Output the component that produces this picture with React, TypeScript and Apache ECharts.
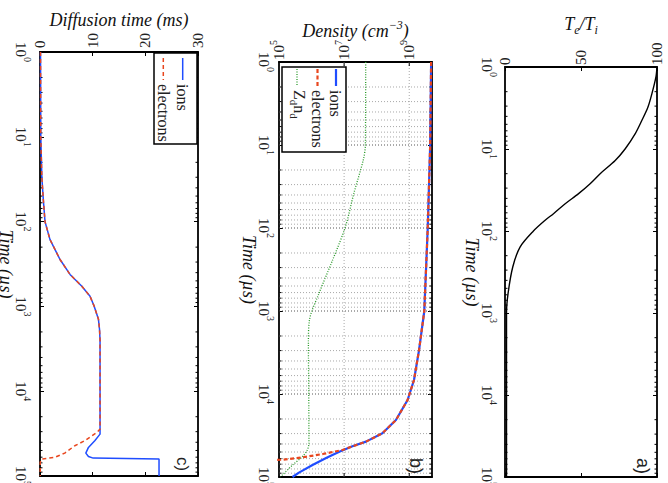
import React, { useEffect, useRef } from 'react';
import * as echarts from 'echarts';

const SERIF = 'Liberation Serif';
const SANS = 'Liberation Sans';

// ---------- tick labels ----------
const TIME_EXPONENTS = [0, 1, 2, 3, 4, 5];
const DIFF_TICKS = [0, 10, 20, 30];
const DENSITY_EXPONENTS = [5, 7, 9];
const RATIO_TICKS = [0, 50, 100];

// ---------- panel a) Te/Ti ----------
const TETI_TIME = [1, 1.32, 2.1, 3.1, 4.5, 6.5, 10, 13.8, 20, 26.5, 35, 46.5, 61.5, 74, 100, 157, 275, 580, 1000, 2000, 100000];
const TETI = [100, 99.3, 96.7, 94, 90, 85.7, 79, 72.5, 62.6, 56, 48.4, 39.6, 31.9, 26.4, 18.7, 9.9, 5.1, 2.0, 1.0, 1.0, 1.0];

// ---------- panel b) densities (cm^-3) ----------
const DENS_ION_TIME = [1, 10, 100, 1000, 2960, 6780, 11800, 20600, 29700, 37500, 42700, 49700, 59000, 71800, 88500, 100000];
const DENS_ION = [4.7e9, 4.4e9, 3.7e9, 2.9e9, 2.0e9, 1.4e9, 8.9e8, 3.9e8, 1.5e8, 4.7e7, 1.8e7, 7.1e6, 2.8e6, 1.07e6, 4.1e5, 2.6e5];
const DENS_ELEC_TIME = [1, 10, 100, 1000, 2960, 6780, 11800, 20600, 29700, 37500, 42700, 47300, 52900, 58000, 61900, 63500, 100000];
const DENS_ELEC = [4.7e9, 4.4e9, 3.7e9, 2.9e9, 2.0e9, 1.4e9, 8.9e8, 3.9e8, 1.5e8, 4.7e7, 1.8e7, 8.9e6, 2.2e6, 5.2e5, 1.27e5, 1e4, 1e4];
const ZN_TIME = [1, 10, 15, 38, 96, 245, 610, 1290, 2450, 10000, 39000, 47300, 56900, 71800, 100000];
const ZN = [4.6e7, 4.5e7, 3.9e7, 2.0e7, 1.1e7, 4.4e6, 1.7e6, 8.6e5, 8.0e5, 8.2e5, 8.3e5, 7.4e5, 5.2e5, 2.6e5, 1.1e5];

// ---------- panel c) diffusion times (ms) ----------
const DIFF_ION_TIME = [1, 10, 30, 55, 100, 163, 280, 420, 575, 760, 1000, 1420, 1860, 2500, 32100, 38400, 46000, 53700, 58900, 61500, 63000, 100000];
const DIFF_ION = [0.1, 0.15, 0.35, 0.63, 0.95, 1.9, 3.8, 5.7, 7.9, 9.5, 10.3, 11.1, 11.3, 11.4, 11.4, 10.4, 9.2, 8.7, 9.2, 10.1, 22.6, 22.6];
const DIFF_ELEC_TIME = [1, 10, 30, 55, 100, 163, 280, 420, 575, 760, 1000, 1420, 1860, 2500, 28000, 30600, 38400, 44000, 53700, 60300, 63000, 69000, 100000];
const DIFF_ELEC = [0.1, 0.15, 0.35, 0.63, 0.95, 1.9, 3.8, 5.7, 7.9, 9.5, 10.3, 11.1, 11.3, 11.4, 11.4, 10.8, 8.5, 6.6, 4.7, 2.8, 0.3, 0.05, 0.05];

const ION_COLOR = '#1f4dff';
const ELEC_COLOR = '#e8461e';
const ZN_COLOR = '#2a9a2a';
const TEXT_COLOR = '#222';

const pairs = (xs: number[], ts: number[]) => xs.map((v, i) => [v, ts[i]]);

const isPow10 = (v: number) => {
  const l = Math.log10(v);
  return Math.abs(l - Math.round(l)) < 1e-6;
};

const powLabel = (allowed: number[]) => (v: number) => {
  if (!(v > 0)) return '';
  const l = Math.log10(v);
  const e = Math.round(l);
  if (Math.abs(l - e) > 1e-6 || allowed.indexOf(e) < 0) return '';
  return `{b|10}{s|${e}}`;
};
const linLabel = (allowed: number[]) => (v: number) =>
  allowed.some((a) => Math.abs(a - v) < 1e-9) ? String(v) : '';

const labelRich = {
  b: { fontSize: 15, fontFamily: SERIF, color: TEXT_COLOR, lineHeight: 22 },
  s: { fontSize: 10, fontFamily: SERIF, color: TEXT_COLOR, verticalAlign: 'top', lineHeight: 12 },
};
const titleRich = {
  i: { fontSize: 18, fontFamily: SERIF, fontStyle: 'italic', color: '#111', lineHeight: 24 },
  s: { fontSize: 12, fontFamily: SERIF, fontStyle: 'italic', color: '#111', verticalAlign: 'top', lineHeight: 14 },
  u: { fontSize: 12, fontFamily: SERIF, fontStyle: 'italic', color: '#111', verticalAlign: 'bottom', lineHeight: 14 },
};

// minor log ticks on the time axis
const MINOR_TIMES: number[] = [];
for (let e = TIME_EXPONENTS[0]; e < TIME_EXPONENTS[TIME_EXPONENTS.length - 1]; e++) {
  for (let k = 1; k <= 9; k++) MINOR_TIMES.push(k * Math.pow(10, e));
}

const AX_LINE = { show: true, onZero: false, lineStyle: { color: '#000', width: 1.8 } };
const TICK = { show: true, inside: true, length: 4, lineStyle: { color: '#000', width: 1 } };

function timeAxes(gridIndex: number, margin: number, nameGap: number) {
  const base: any = { type: 'log', logBase: 10, min: 1, max: 1e5, inverse: true, gridIndex, splitNumber: 5, splitLine: { show: false } };
  return [
    {
      ...base,
      position: 'left',
      axisLine: AX_LINE,
      axisTick: TICK,
      axisLabel: { rotate: -90, margin, formatter: powLabel(TIME_EXPONENTS), rich: labelRich },
      name: 'Time (µs)',
      nameLocation: 'middle',
      nameRotate: -90,
      nameGap,
      nameMoveOverlap: false,
      nameTextStyle: { fontFamily: SERIF, fontStyle: 'italic', fontSize: 18, color: '#111' },
    },
    { ...base, position: 'right', axisLine: AX_LINE, axisTick: TICK, axisLabel: { show: false } },
  ];
}

function topAxes(gridIndex: number, cfg: any, name: string, nameGap: number, margin: number) {
  return [
    {
      ...cfg,
      gridIndex,
      position: 'top',
      axisLine: AX_LINE,
      axisTick: cfg.customTicks ? { show: false } : TICK,
      splitLine: { show: false },
      axisLabel: { rotate: -90, margin, rich: labelRich, fontSize: 15, fontFamily: SERIF, color: TEXT_COLOR, formatter: cfg.fmt, showMaxLabel: true },
      name,
      nameLocation: 'middle',
      nameGap,
      nameMoveOverlap: false,
      nameTextStyle: { fontFamily: SERIF, fontStyle: 'italic', fontSize: 18, rich: titleRich },
    },
    {
      ...cfg,
      gridIndex,
      position: 'bottom',
      axisLine: AX_LINE,
      axisTick: cfg.customTicks ? { show: false } : TICK,
      splitLine: { show: false },
      axisLabel: { show: false },
    },
  ];
}

const minorTickRenderer = (withGrid: boolean) => (params: any, api: any) => {
  const cs = params.coordSys;
  const t = api.value(1);
  const y = api.coord([api.value(0), t])[1];
  const major = isPow10(t);
  const children: any[] = [];
  if (withGrid && y > cs.y + 1 && y < cs.y + cs.height - 1) {
    children.push({
      type: 'line',
      shape: { x1: cs.x, y1: y, x2: cs.x + cs.width, y2: y },
      style: { stroke: major ? '#555' : '#a8a8a8', lineWidth: 1, lineDash: [1, 2] },
    });
  }
  if (!major) {
    const len = 2.5;
    children.push({ type: 'line', shape: { x1: cs.x, y1: y, x2: cs.x + len, y2: y }, style: { stroke: '#000', lineWidth: 1 } });
    children.push({ type: 'line', shape: { x1: cs.x + cs.width - len, y1: y, x2: cs.x + cs.width, y2: y }, style: { stroke: '#000', lineWidth: 1 } });
  }
  return { type: 'group', children };
};

const densityGridRenderer = (params: any, api: any) => {
  const cs = params.coordSys;
  const x = api.coord([api.value(0), api.value(1)])[0];
  if (x < cs.x + 1) return { type: 'group', children: [] };
  return {
    type: 'group',
    children: [
      { type: 'line', shape: { x1: x, y1: cs.y, x2: x, y2: cs.y + cs.height }, style: { stroke: '#a8a8a8', lineWidth: 1, lineDash: [1, 2] } },
      { type: 'line', shape: { x1: x, y1: cs.y, x2: x, y2: cs.y + 4 }, style: { stroke: '#000', lineWidth: 1 } },
      { type: 'line', shape: { x1: x, y1: cs.y + cs.height - 4, x2: x, y2: cs.y + cs.height }, style: { stroke: '#000', lineWidth: 1 } },
    ],
  };
};

const vLine = (x: number, y1: number, y2: number, color: string, width: number, dash?: number[]) => ({
  type: 'line',
  z: 101,
  shape: { x1: x, y1, x2: x, y2 },
  style: { stroke: color, lineWidth: width, lineDash: dash },
});
const vText = (x: number, y: number, text: string, size: number, family: string, rich?: any) => ({
  type: 'text',
  z: 101,
  x,
  y,
  rotation: -Math.PI / 2,
  style: {
    text,
    fontSize: size,
    fontFamily: family,
    fill: TEXT_COLOR,
    align: 'left',
    verticalAlign: 'middle',
    textAlign: 'left',
    textVerticalAlign: 'middle',
    rich,
  },
});
const box = (x: number, y: number, w: number, h: number) => ({
  type: 'rect',
  z: 100,
  shape: { x, y, width: w, height: h },
  style: { fill: '#fff', stroke: '#000', lineWidth: 1.5 },
});

export default function App() {
  const ref = useRef<HTMLDivElement>(null);
  useEffect(() => {
    if (!ref.current) return;
    const chart = echarts.init(ref.current, undefined, { renderer: 'svg' });

    const xAxes = [
      ...topAxes(0, { type: 'value', min: 0, max: 30, interval: 10, fmt: linLabel(DIFF_TICKS) }, '{i|Diffusion time (ms)}', 20, 4),
      ...topAxes(1, { type: 'log', logBase: 10, min: 1e5, max: 5e9, fmt: powLabel(DENSITY_EXPONENTS), customTicks: true }, '{i|Density (cm}{s|−3}{i|)}', 19, 2),
      ...topAxes(2, { type: 'value', min: 0, max: 100, interval: 50, fmt: linLabel(RATIO_TICKS) }, '{i|T}{u|e}{i|/T}{u|i}', 31, 2),
    ].map((a: any) => {
      const { fmt, customTicks, ...rest } = a;
      return rest;
    });

    const yAxes = [...timeAxes(0, 8, 25), ...timeAxes(1, 4, 21), ...timeAxes(2, 7, 24)];

    const minorData = (x0: number) => MINOR_TIMES.map((t) => [x0, t]);

    const option: any = {
      animation: false,
      backgroundColor: '#fff',
      textStyle: { fontFamily: SERIF },
      grid: [
        { left: 40, top: 52, width: 158, height: 424, containLabel: false, outerBoundsMode: 'none' },
        { left: 279, top: 62, width: 153, height: 415, containLabel: false, outerBoundsMode: 'none' },
        { left: 505, top: 67, width: 152, height: 410, containLabel: false, outerBoundsMode: 'none' },
      ],
      xAxis: xAxes,
      yAxis: yAxes,
      series: [
        { type: 'custom', xAxisIndex: 0, yAxisIndex: 0, z: 1, silent: true, renderItem: minorTickRenderer(false), data: minorData(0) },
        { type: 'custom', xAxisIndex: 2, yAxisIndex: 2, z: 1, silent: true, renderItem: minorTickRenderer(true), data: minorData(1e5) },
        { type: 'custom', xAxisIndex: 2, yAxisIndex: 2, z: 1, silent: true, renderItem: densityGridRenderer, data: DENSITY_EXPONENTS.map((e) => [Math.pow(10, e), 1]) },
        { type: 'custom', xAxisIndex: 4, yAxisIndex: 4, z: 1, silent: true, renderItem: minorTickRenderer(false), data: minorData(0) },

        { name: 'ions', type: 'line', xAxisIndex: 0, yAxisIndex: 0, showSymbol: false, symbol: 'none', clip: true, z: 3,
          lineStyle: { color: ION_COLOR, width: 1.5 }, data: pairs(DIFF_ION, DIFF_ION_TIME) },
        { name: 'electrons', type: 'line', xAxisIndex: 0, yAxisIndex: 0, showSymbol: false, symbol: 'none', clip: true, z: 4,
          lineStyle: { color: ELEC_COLOR, width: 1.5, type: [4, 3] }, data: pairs(DIFF_ELEC, DIFF_ELEC_TIME) },

        { name: 'ions', type: 'line', xAxisIndex: 2, yAxisIndex: 2, showSymbol: false, symbol: 'none', clip: true, z: 3,
          lineStyle: { color: ION_COLOR, width: 2.2 }, data: pairs(DENS_ION, DENS_ION_TIME) },
        { name: 'electrons', type: 'line', xAxisIndex: 2, yAxisIndex: 2, showSymbol: false, symbol: 'none', clip: true, z: 4,
          lineStyle: { color: ELEC_COLOR, width: 2.2, type: [4, 2.5] }, data: pairs(DENS_ELEC, DENS_ELEC_TIME) },
        { name: 'Zd nd', type: 'line', xAxisIndex: 2, yAxisIndex: 2, showSymbol: false, symbol: 'none', clip: true, z: 3, smooth: 0.3,
          lineStyle: { color: ZN_COLOR, width: 1.3, type: [1, 1.5] }, data: pairs(ZN, ZN_TIME) },

        { name: 'Te/Ti', type: 'line', xAxisIndex: 4, yAxisIndex: 4, showSymbol: false, symbol: 'none', clip: true, z: 3, smooth: 0.3,
          lineStyle: { color: '#000', width: 1.4 }, data: pairs(TETI, TETI_TIME) },
      ],
      graphic: [
        // legend c)
        box(154, 53, 43, 91),
        vLine(182.7, 58, 80, ION_COLOR, 1.5),
        vText(182.5, 84, 'ions', 16, SERIF),
        vLine(163.3, 58, 80, ELEC_COLOR, 1.5, [4, 3]),
        vText(163.5, 84, 'electrons', 16, SERIF),
        // legend b)
        box(282, 67, 64, 85),
        vLine(336, 69, 86, ION_COLOR, 2.2),
        vText(335, 90, 'ions', 16, SERIF),
        vLine(317.5, 69, 86, ELEC_COLOR, 2.2, [4, 2.5]),
        vText(317, 90, 'electrons', 16, SERIF),
        vLine(297, 69, 86, ZN_COLOR, 1.3, [1, 1.5]),
        vText(299, 90, '{m|Z}{u|d}{m|n}{u|d}', 16, SERIF, {
          m: { fontSize: 16, fontFamily: SERIF, fill: TEXT_COLOR, lineHeight: 22 },
          u: { fontSize: 11, fontFamily: SERIF, fill: TEXT_COLOR, verticalAlign: 'bottom', lineHeight: 12 },
        }),
        // panel tags
        vText(182, 457, 'c)', 17, SANS),
        vText(416, 458, 'b)', 18, SANS),
        vText(643, 458, 'a)', 18, SANS),
      ],
    };
    chart.setOption(option);
    return () => chart.dispose();
  }, []);
  return <div ref={ref} style={{ position: 'absolute', left: 0, top: 0, width: 668, height: 483, background: '#fff' }} />;
}
